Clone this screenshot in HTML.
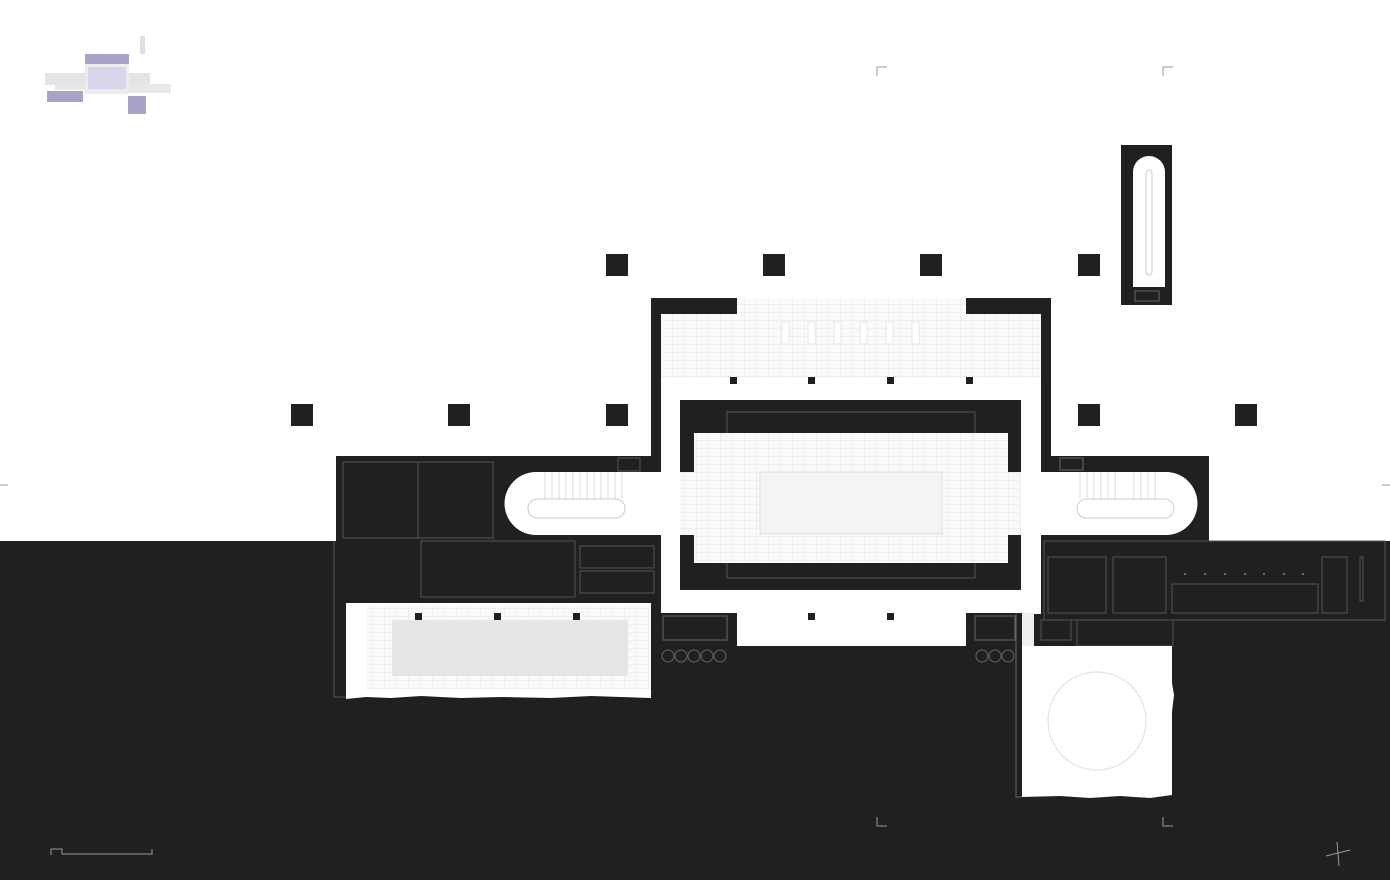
<!DOCTYPE html>
<html><head><meta charset="utf-8"><style>html,body{margin:0;padding:0;background:#fff}svg{display:block}</style></head>
<body>
<svg width="1390" height="880" viewBox="0 0 1390 880" xmlns="http://www.w3.org/2000/svg">
<defs>
<pattern id="tile" width="12" height="8" patternUnits="userSpaceOnUse">
<rect width="12" height="8" fill="#fafafa"/><path d="M0 .5H12M.5 0V8" stroke="#efefef" stroke-width="1" fill="none"/>
</pattern>
</defs>
<rect width="1390" height="880" fill="#fff"/>
<rect x="0" y="541" width="1390" height="339" fill="#202020"/>
<!-- legend -->
<rect x="140" y="36" width="5" height="18" fill="#e0e0e0"/>
<rect x="85" y="54" width="44" height="10" fill="#a8a4c8"/>
<rect x="85" y="64" width="44" height="30" fill="#ececec"/>
<rect x="88" y="67" width="38" height="22" fill="#d8d6ea"/>
<rect x="45" y="73" width="40" height="12" fill="#e4e4e4"/>
<rect x="55" y="84" width="30" height="6" fill="#e8e8e8"/>
<rect x="129" y="73" width="21" height="12" fill="#e4e4e4"/>
<rect x="129" y="84" width="42" height="9" fill="#e8e8e8"/>
<rect x="47" y="91" width="36" height="11" fill="#a8a4c8"/>
<rect x="128" y="96" width="18" height="18" fill="#a8a4c8"/>
<!-- corner marks -->
<g stroke="#999" fill="none" stroke-width="1">
<path d="M877 76V67H887M1163 76V67H1173M877 817V826H887M1163 817V826H1173"/>
<path d="M51 855V849H62V854H152V849"/>
<path d="M1326 856L1350 850M1337 842L1339 866"/>
<path d="M0 485H8M1382 485H1390"/>
</g>
<!-- columns -->
<g fill="#202020">
<rect x="606" y="254" width="22" height="22"/><rect x="763" y="254" width="22" height="22"/><rect x="920" y="254" width="22" height="22"/><rect x="1078" y="254" width="22" height="22"/>
<rect x="291" y="404" width="22" height="22"/><rect x="448" y="404" width="22" height="22"/><rect x="606" y="404" width="22" height="22"/><rect x="1078" y="404" width="22" height="22"/><rect x="1235" y="404" width="22" height="22"/>
</g>
<!-- tower -->
<rect x="1121" y="145" width="51" height="160" fill="#202020"/>
<path d="M1133 287V172a16 16 0 0 1 32 0V287Z" fill="#fff"/>
<rect x="1146" y="170" width="6" height="105" rx="3" fill="#fff" stroke="#ccc"/>
<g fill="#202020"><rect x="1166" y="183" width="6" height="3"/><rect x="1166" y="190" width="6" height="3"/><rect x="1166" y="197" width="6" height="3"/><rect x="1166" y="204" width="6" height="3"/><rect x="1166" y="211" width="6" height="3"/><rect x="1166" y="218" width="6" height="3"/><rect x="1166" y="225" width="6" height="3"/><rect x="1166" y="232" width="6" height="3"/><rect x="1166" y="239" width="6" height="3"/><rect x="1166" y="246" width="6" height="3"/><rect x="1166" y="253" width="6" height="3"/><rect x="1166" y="260" width="6" height="3"/></g>
<rect x="1135" y="291" width="24" height="10" fill="none" stroke="#666"/>
<!-- central block walls -->
<rect x="651" y="298" width="400" height="158" fill="#202020"/>
<rect x="661" y="314" width="380" height="300" fill="#fff"/>
<rect x="737" y="613" width="229" height="33" fill="#fff"/>
<rect x="737" y="298" width="229" height="16" fill="url(#tile)"/>
<rect x="661" y="314" width="380" height="64" fill="url(#tile)"/>
<g fill="#fff" stroke="#e6e6e6"><rect x="782" y="322" width="7" height="22"/><rect x="808" y="322" width="7" height="22"/><rect x="834" y="322" width="7" height="22"/><rect x="860" y="322" width="7" height="22"/><rect x="886" y="322" width="7" height="22"/><rect x="912" y="322" width="7" height="22"/></g>
<g fill="#202020"><rect x="730" y="377" width="7" height="7"/><rect x="808" y="377" width="7" height="7"/><rect x="887" y="377" width="7" height="7"/><rect x="966" y="377" width="7" height="7"/>
<rect x="808" y="613" width="7" height="7"/><rect x="887" y="613" width="7" height="7"/></g>
<!-- ring -->
<rect x="680" y="400" width="341" height="190" fill="#202020"/>
<rect x="727" y="412" width="248" height="166" fill="none" stroke="#555"/>
<rect x="694" y="433" width="314" height="130" fill="url(#tile)"/>
<rect x="680" y="472" width="341" height="63" fill="url(#tile)"/>
<rect x="760" y="472" width="182" height="62" fill="#f4f4f4" stroke="#ddd"/>
<!-- left wing -->
<rect x="336" y="456" width="325" height="148" fill="#202020"/>
<path d="M536 472H661V535H536a31.5 31.5 0 0 1 0-63Z" fill="#fff"/>
<g stroke="#ddd"><path d="M545 472V499M552 472V499M559 472V499M566 472V499M573 472V499M580 472V499M587 472V499M594 472V499M601 472V499M608 472V499M615 472V499M622 472V499"/></g>
<rect x="528" y="499" width="97" height="19" rx="9.5" fill="#fff" stroke="#ccc"/>
<g stroke="#555" fill="none"><rect x="343" y="462" width="150" height="76"/><path d="M418 462V538"/><rect x="421" y="541" width="154" height="56"/><rect x="580" y="546" width="74" height="22"/><rect x="580" y="571" width="74" height="22"/><rect x="618" y="458" width="22" height="13"/><path d="M334 541V697H346"/></g>
<rect x="346" y="603" width="305" height="96" fill="#fff"/>
<rect x="366" y="605" width="285" height="84" fill="url(#tile)"/>
<rect x="392" y="620" width="236" height="56" fill="#e6e6e6"/>
<path d="M346 699l20-2 25 1 30-2 40 2 40-1 50 1 40-2 60 2V702H346Z" fill="#202020"/>
<g fill="#202020"><rect x="415" y="613" width="7" height="7"/><rect x="494" y="613" width="7" height="7"/><rect x="573" y="613" width="7" height="7"/></g>
<rect x="651" y="613" width="10" height="86" fill="#202020"/>
<!-- bottom of central -->
<rect x="661" y="613" width="76" height="40" fill="#202020"/>
<rect x="966" y="613" width="56" height="40" fill="#202020"/>
<g stroke="#666" fill="none"><rect x="663" y="616" width="64" height="24"/><rect x="975" y="616" width="40" height="24"/>
<circle cx="668" cy="656" r="6"/><circle cx="681" cy="656" r="6"/><circle cx="694" cy="656" r="6"/><circle cx="707" cy="656" r="6"/><circle cx="720" cy="656" r="6"/>
<circle cx="982" cy="656" r="6"/><circle cx="995" cy="656" r="6"/><circle cx="1008" cy="656" r="6"/>
<path d="M1016 613V797H1022"/></g>
<!-- right wing -->
<rect x="1041" y="456" width="168" height="85" fill="#202020"/>
<path d="M1041 472H1166a31.5 31.5 0 0 1 0 63H1041Z" fill="#fff"/>
<g stroke="#ddd"><path d="M1080 472V499M1087 472V499M1094 472V499M1101 472V499M1108 472V499M1115 472V499M1134 472V499M1141 472V499M1148 472V499M1155 472V499"/></g>
<rect x="1077" y="499" width="97" height="19" rx="9.5" fill="#fff" stroke="#ccc"/>
<rect x="1060" y="458" width="23" height="12" fill="none" stroke="#666"/>
<g stroke="#555" fill="none"><rect x="1044" y="541" width="341" height="79"/><rect x="1048" y="557" width="58" height="56"/><rect x="1113" y="557" width="53" height="56"/><rect x="1172" y="584" width="146" height="29"/><rect x="1322" y="557" width="25" height="56"/><rect x="1360" y="557" width="3" height="44"/><rect x="1041" y="620" width="30" height="20"/><rect x="1077" y="620" width="96" height="26"/></g>
<g fill="#666"><circle cx="1185" cy="574" r="1.2"/><circle cx="1205" cy="574" r="1.2"/><circle cx="1225" cy="574" r="1.2"/><circle cx="1245" cy="574" r="1.2"/><circle cx="1264" cy="574" r="1.2"/><circle cx="1284" cy="574" r="1.2"/><circle cx="1303" cy="574" r="1.2"/></g>
<rect x="1022" y="613" width="12" height="33" fill="#eee"/>
<path d="M1022 646H1172V683L1174 695 1172 712V795L1150 798 1120 796 1090 798 1060 796 1022 797Z" fill="#fff"/>
<circle cx="1097" cy="721" r="49" fill="none" stroke="#ddd"/>
</svg>
</body></html>
